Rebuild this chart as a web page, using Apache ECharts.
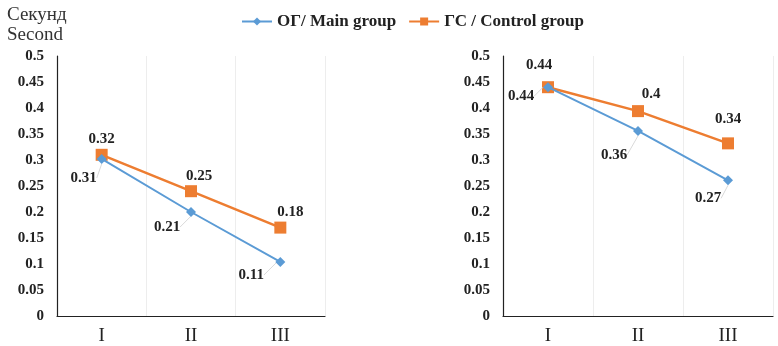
<!DOCTYPE html>
<html>
<head>
<meta charset="utf-8">
<script src="https://cdn.jsdelivr.net/npm/echarts@6/dist/echarts.min.js"></script>
<style>
  html, body { margin: 0; padding: 0; background: #fff; }
  #chart { width: 778px; height: 346px; }
</style>
</head>
<body>
<div id="chart"></div>
<script>
const categories = ['I', 'II', 'III']
const yTicks = ['0', '0.05', '0.1', '0.15', '0.2', '0.25', '0.3', '0.35', '0.4', '0.45', '0.5']

// left panel
const mainLeft = [0.302, 0.2, 0.104]
const controlLeft = [0.31, 0.24, 0.17]
const mainLeftLabels = ['0.31', '0.21', '0.11']
const controlLeftLabels = ['0.32', '0.25', '0.18']

// right panel
const mainRight = [0.44, 0.356, 0.261]
const controlRight = [0.44, 0.394, 0.332]
const mainRightLabels = ['0.44', '0.36', '0.27']
const controlRightLabels = ['0.44', '0.4', '0.34']

// label offsets (layout only)
const offMainLeft = [[-18, 19], [-24, 15], [-29, 13]]
const offCtrlLeft = [[0, -16], [8, -15], [10, -15]]
const offMainRight = [[-27, 9], [-24, 24], [-20, 18]]
const offCtrlRight = [[-9, -22], [13, -17], [0, -24]]

const BLUE = '#5b9bd5'
const ORANGE = '#ed7d31'
const serif = '"Liberation Serif", "DejaVu Serif", serif'

const chart = echarts.init(document.getElementById('chart'))

const makeX = (gi) => ({
  type: 'category', gridIndex: gi, data: categories, boundaryGap: true,
  axisLine: { lineStyle: { color: '#222', width: 1.2 } },
  axisTick: { show: false },
  axisLabel: { fontFamily: serif, fontSize: 19, color: '#222', margin: 11 },
  splitLine: { show: true, lineStyle: { color: '#ededed', width: 1 } }
})
const makeY = (gi) => ({
  type: 'value', gridIndex: gi, min: 0, max: 0.5, interval: 0.05,
  axisLine: { show: true, lineStyle: { color: '#222', width: 1.2 } },
  axisTick: { show: false },
  splitLine: { show: false },
  axisLabel: {
    fontFamily: serif, fontSize: 15, fontWeight: 'bold', color: '#222', margin: 13,
    formatter: (v, i) => yTicks[i]
  }
})

const lbl = (labels) => ({
  show: true, position: 'inside',
  fontFamily: serif, fontSize: 15, fontWeight: 'bold', color: '#222',
  formatter: p => labels[p.dataIndex]
})

const mainSeries = (name, data, labels, offs, gi) => ({
  name, type: 'line', xAxisIndex: gi, yAxisIndex: gi, data,
  symbol: 'diamond', symbolSize: 10,
  lineStyle: { color: BLUE, width: 2 },
  itemStyle: { color: BLUE },
  label: lbl(labels),
  labelLayout: p => ({ dx: offs[p.dataIndex][0], dy: offs[p.dataIndex][1] }),
  labelLine: { show: true, lineStyle: { color: '#d9d9d9', width: 1 } },
  z: 3
})
const ctrlSeries = (name, data, labels, offs, gi) => ({
  name, type: 'line', xAxisIndex: gi, yAxisIndex: gi, data,
  symbol: 'rect', symbolSize: 12,
  lineStyle: { color: ORANGE, width: 2.5 },
  itemStyle: { color: ORANGE },
  label: lbl(labels),
  labelLayout: p => ({ dx: offs[p.dataIndex][0], dy: offs[p.dataIndex][1] }),
  z: 2
})

const option = {
  animation: false,
  textStyle: { fontFamily: serif },
  title: {
    text: 'Секунд\nSecond', left: 2, top: 0,
    textStyle: { fontFamily: serif, fontSize: 19, fontWeight: 'normal', color: '#333', lineHeight: 20 }
  },
  legend: {
    top: 8, left: 236, itemGap: 12, itemWidth: 30, itemHeight: 10,
    textStyle: { fontFamily: serif, fontSize: 17, fontWeight: 'bold', color: '#222' },
    data: ['ОГ/ Main group', 'ГС / Control group']
  },
  grid: [
    { left: 57, top: 56, width: 268, height: 263 },
    { left: 503, top: 56, width: 270, height: 263 }
  ],
  xAxis: [makeX(0), makeX(1)],
  yAxis: [makeY(0), makeY(1)],
  series: [
    ctrlSeries('ГС / Control group', controlLeft, controlLeftLabels, offCtrlLeft, 0),
    mainSeries('ОГ/ Main group', mainLeft, mainLeftLabels, offMainLeft, 0),
    ctrlSeries('ГС / Control group', controlRight, controlRightLabels, offCtrlRight, 1),
    mainSeries('ОГ/ Main group', mainRight, mainRightLabels, offMainRight, 1)
  ]
}

chart.setOption(option)
</script>
</body>
</html>
